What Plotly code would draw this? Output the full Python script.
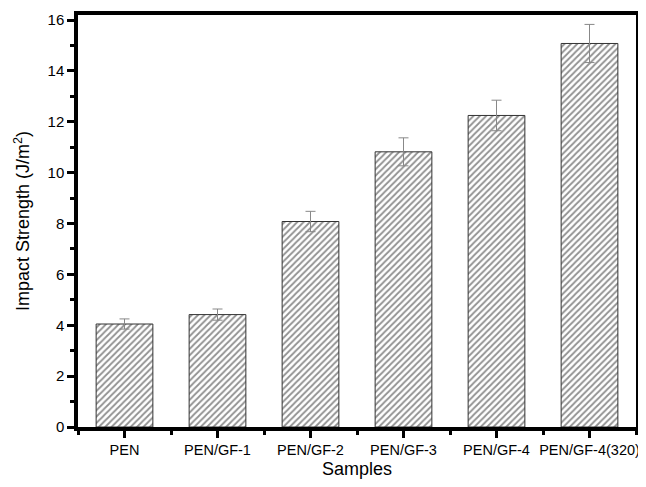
import plotly.graph_objects as go

categories = ["PEN", "PEN/GF-1", "PEN/GF-2", "PEN/GF-3", "PEN/GF-4", "PEN/GF-4(320)"]
impact = [4.05, 4.42, 8.08, 10.82, 12.25, 15.08]
errors = [0.2, 0.22, 0.4, 0.55, 0.6, 0.75]

xpos = list(range(len(categories)))

fig = go.Figure()
fig.add_trace(go.Bar(
    x=xpos, y=impact, width=0.61,
    marker=dict(color="white", line=dict(color="#333333", width=1),
                pattern=dict(shape="/", fgcolor="#222222", bgcolor="white", size=4.5, solidity=0.4)),
    error_y=dict(type="data", array=errors, color="#888888", thickness=1, width=5),
))

# page body has a default 8px margin, so the figure is sized to fit the 646x487 window
font = dict(family="Liberation Sans, Arial, sans-serif", size=15, color="black")
fig.update_layout(
    width=630, height=471,
    margin=dict(l=70, r=2, t=7, b=52),
    plot_bgcolor="white", paper_bgcolor="white",
    showlegend=False, font=font,
    xaxis=dict(range=[-0.5, 5.5], tickvals=xpos, ticktext=categories,
               showline=True, linewidth=3.5, linecolor="black", mirror=True,
               ticks="outside", ticklen=7, tickwidth=3, tickcolor="black",
               minor=dict(tick0=0.5, dtick=1, ticks="outside", ticklen=4, tickwidth=2.5, tickcolor="black"),
               showgrid=False, zeroline=False, tickfont=dict(size=14.5),
               automargin=False, ticklabeloverflow="allow",
               title=dict(text="Samples", font=dict(size=18), standoff=16)),
    yaxis=dict(range=[0, 16.2], tickvals=[0, 2, 4, 6, 8, 10, 12, 14, 16],
               showline=True, linewidth=3.5, linecolor="black", mirror=True,
               ticks="outside", ticklen=7, tickwidth=3, tickcolor="black",
               minor=dict(tick0=1, dtick=2, ticks="outside", ticklen=4, tickwidth=2.5, tickcolor="black"),
               showgrid=False, zeroline=False, tickfont=dict(size=15), automargin=False,
               title=dict(text="Impact Strength (J/m<sup>2</sup>)", font=dict(size=18), standoff=14)),
)
fig.write_html("out.html")
